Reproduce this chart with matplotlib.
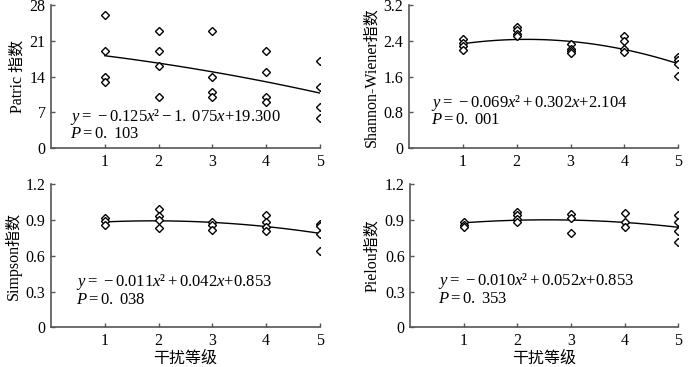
import matplotlib.pyplot as plt
import numpy as np

plt.rcParams['font.family'] = ['Liberation Serif', 'Noto Sans CJK SC']
plt.rcParams['mathtext.fontset'] = 'custom'
plt.rcParams['mathtext.rm'] = 'Liberation Serif'
plt.rcParams['mathtext.it'] = 'Liberation Serif:italic'

# disturbance levels
levels = [1, 2, 3, 4, 5]

patric = [[26, 19, 14, 13], [23, 19, 16, 10], [23, 14, 11, 10], [19, 15, 10, 9], [17, 12, 8, 6]]
shannon = [[2.44, 2.36, 2.28, 2.2], [2.72, 2.65, 2.55, 2.5], [2.33, 2.22, 2.18, 2.13],
           [2.5, 2.4, 2.22, 2.15], [2.05, 1.97, 1.88, 1.62]]
simpson = [[0.92, 0.89, 0.86], [0.99, 0.93, 0.90, 0.83], [0.88, 0.86, 0.82],
           [0.94, 0.88, 0.84, 0.81], [0.87, 0.85, 0.78, 0.64]]
pielou = [[0.88, 0.86, 0.84], [0.97, 0.94, 0.91, 0.88], [0.95, 0.92, 0.79],
          [0.955, 0.88, 0.845], [0.94, 0.885, 0.81, 0.715]]

# quadratic curve coefficients (a, b, c) of the drawn fit lines
coef_patric = [-0.125, -1.075, 19.300]
coef_shannon = [-0.069, 0.302, 2.104]
coef_simpson = [-0.011, 0.042, 0.853]
coef_pielou = [-0.0104, 0.053, 0.834]  # the drawn line sits below the printed equation

eq_patric = r'$y\mathrm{=\,-0.125}x\mathrm{²-1.\ 075}x\mathrm{+19.300}$'
eq_shannon = r'$y\mathrm{=\,-0.069}x\mathrm{²+0.302}x\mathrm{+2.104}$'
eq_simpson = r'$y\mathrm{=\,-0.011}x\mathrm{²+0.042}x\mathrm{+0.853}$'
eq_pielou = r'$y\mathrm{=\,-0.010}x\mathrm{²+0.052}x\mathrm{+0.853}$'
p_patric = r'$P\mathrm{=0.\ 103}$'
p_shannon = r'$P\mathrm{=0.\ 001}$'
p_simpson = r'$P\mathrm{=0.\ 038}$'
p_pielou = r'$P\mathrm{=0.\ 353}$'

panels = [
    # data, coef, ylabel, yticks, eq, p, axes rect, text pos (x, y_eq, y_p), xlabel
    (patric, coef_patric, 'Patric 指数', [0, 7, 14, 21, 28], eq_patric, p_patric,
     [0.073, 0.596, 0.384, 0.390], (0.07, 0.22, 0.10), False),
    (shannon, coef_shannon, 'Shannon-Wiener指数', [0, 0.8, 1.6, 2.4, 3.2], eq_shannon, p_shannon,
     [0.584, 0.596, 0.385, 0.390], (0.084, 0.314, 0.197), False),
    (simpson, coef_simpson, 'Simpson指数', [0, 0.3, 0.6, 0.9, 1.2], eq_simpson, p_simpson,
     [0.073, 0.108, 0.384, 0.390], (0.094, 0.315, 0.19), True),
    (pielou, coef_pielou, 'Pielou指数', [0, 0.3, 0.6, 0.9, 1.2], eq_pielou, p_pielou,
     [0.586, 0.108, 0.383, 0.390], (0.105, 0.324, 0.20), True),
]

fig = plt.figure(figsize=(7, 3.67), dpi=100)
spine_color = '#555555'

for data, coef, ylabel, yticks, eq, ptxt, rect, tpos, show_xlabel in panels:
    ax = fig.add_axes(rect)
    for lv, vals in zip(levels, data):
        ax.plot([lv] * len(vals), vals, linestyle='none', marker='D', ms=4.2,
                mfc='white', mec='black', mew=1.0, zorder=3)
    xs = np.linspace(levels[0], levels[-1], 60)
    ax.plot(xs, np.polyval(coef, xs), color='black', lw=1.0, zorder=2)

    ax.set_xlim(0, 5)
    ax.set_ylim(yticks[0], yticks[-1])
    ax.set_xticks(levels)
    ax.set_yticks(yticks)
    ax.set_yticklabels([('%g' % t) for t in yticks])
    ax.tick_params(direction='in', length=3, width=1, color=spine_color, labelsize=11.5, pad=4)
    for s in ['top', 'right']:
        ax.spines[s].set_visible(False)
    for s in ['left', 'bottom']:
        ax.spines[s].set_color(spine_color)
        ax.spines[s].set_linewidth(1.2)

    ax.set_ylabel(ylabel, fontsize=11.5, labelpad=3)
    if show_xlabel:
        ax.set_xlabel('干扰等级', fontsize=11.5, labelpad=1)

    ax.text(tpos[0], tpos[1], eq, transform=ax.transAxes, fontsize=12, va='center', ha='left')
    ax.text(tpos[0], tpos[2], ptxt, transform=ax.transAxes, fontsize=12, va='center', ha='left')

fig.savefig('out.png', dpi=100)
